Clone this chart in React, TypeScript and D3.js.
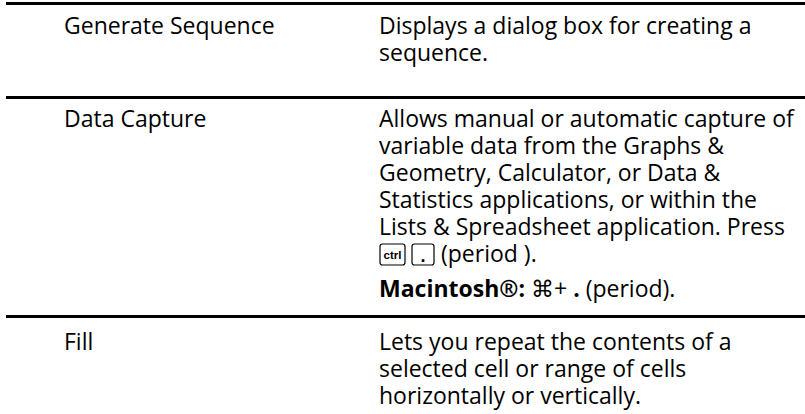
import React, { useRef, useEffect } from 'react';
import * as d3 from 'd3';

// one entry per table row
const rowLabels = ['Generate Sequence', 'Data Capture', 'Fill'];

const rowDescriptions: string[][] = [
	['Displays a dialog box for creating a', 'sequence.'],
	[
		'Allows manual or automatic capture of',
		'variable data from the Graphs &',
		'Geometry, Calculator, or Data &',
		'Statistics applications, or within the',
		'Lists & Spreadsheet application. Press',
	],
	['Lets you repeat the contents of a', 'selected cell or range of cells', 'horizontally or vertically.'],
];

// keyboard shortcut shown after the Data Capture text
const shortcutKeys = ['ctrl', '.'];
const shortcutText = '(period ).';
const macLabel = 'Macintosh®:';
const macParts = [
	{ text: ' ⌘+ ', bold: false },
	{ text: '.', bold: true },
	{ text: ' (period).', bold: false },
];

const FONT = '"Open Sans", "Noto Sans", sans-serif';

const App: React.FC = () => {
	const ref = useRef<null | HTMLDivElement>(null);
	const width = 805;
	const height = 414;

	useEffect(() => {
		if (!ref.current) return;
		d3.select(ref.current).selectAll('svg').remove();

		const svg = d3.select(ref.current)
			.append('svg')
			.attr('width', width)
			.attr('height', height)
			.style('display', 'block');

		svg.append('rect').attr('width', width).attr('height', height).attr('fill', '#fff');

		// fit the font so the longest description line spans the same width as in the picture
		const probe = svg.append('text').attr('font-family', FONT).attr('font-size', 100).text(rowDescriptions[1][0]);
		const w100 = (probe.node() as SVGTextElement).getComputedTextLength();
		probe.remove();
		const fontSize = (415 / w100) * 100;

		const lineH = 27;
		const leftX = 64;
		const rightX = 379;

		// rule bars above each row (top of bar)
		const rules = [2, 96, 315];
		rules.forEach(y => {
			svg.append('rect')
				.attr('x', 6)
				.attr('y', y)
				.attr('width', width - 6)
				.attr('height', 3)
				.attr('fill', '#000');
		});

		// baseline of first text line per row
		const firstBase = [34, 127, 350];

		rowLabels.forEach((label, i) => {
			svg.append('text')
				.attr('x', leftX)
				.attr('y', firstBase[i])
				.attr('font-family', FONT)
				.attr('font-size', fontSize)
				.attr('fill', '#000')
				.text(label);

			rowDescriptions[i].forEach((line, j) => {
				svg.append('text')
					.attr('x', rightX)
					.attr('y', firstBase[i] + j * lineH)
					.attr('font-family', FONT)
					.attr('font-size', fontSize)
					.attr('fill', '#000')
					.text(line);
			});
		});

		// key caps line
		const keyBase = firstBase[1] + rowDescriptions[1].length * lineH;
		let kx = rightX + 1;
		shortcutKeys.forEach(k => {
			const g = svg.append('g');
			const kw = k === 'ctrl' ? 25 : 22;
			g.append('rect')
				.attr('x', kx)
				.attr('y', keyBase - 18)
				.attr('width', kw)
				.attr('height', 21)
				.attr('rx', 2.5)
				.attr('fill', '#fff')
				.attr('stroke', '#000')
				.attr('stroke-width', 1.2);
			g.append('text')
				.attr('x', kx + kw / 2)
				.attr('y', k === 'ctrl' ? keyBase - 3 : keyBase)
				.attr('text-anchor', 'middle')
				.attr('font-family', '"Liberation Sans", Arial, sans-serif')
				.attr('font-weight', 'bold')
				.attr('font-size', k === 'ctrl' ? 11.5 : 18)
				.attr('fill', '#000')
				.text(k);
			kx += kw + 7;
		});
		svg.append('text')
			.attr('x', kx)
			.attr('y', keyBase)
			.attr('font-family', FONT)
			.attr('font-size', fontSize)
			.attr('fill', '#000')
			.text(shortcutText);

		// Macintosh note
		const mac = svg.append('text')
			.attr('x', rightX)
			.attr('y', keyBase + 35)
			.attr('font-family', FONT)
			.attr('font-size', fontSize)
			.attr('fill', '#000');
		mac.append('tspan').attr('font-weight', 'bold').text(macLabel);
		macParts.forEach(p => {
			mac.append('tspan')
				.attr('font-weight', p.bold ? 'bold' : 'normal')
				.style('white-space', 'pre')
				.text(p.text);
		});
	}, []);

	return <div ref={ref} style={{ position: 'absolute', left: 0, top: 0 }}></div>;
};

export default App;
